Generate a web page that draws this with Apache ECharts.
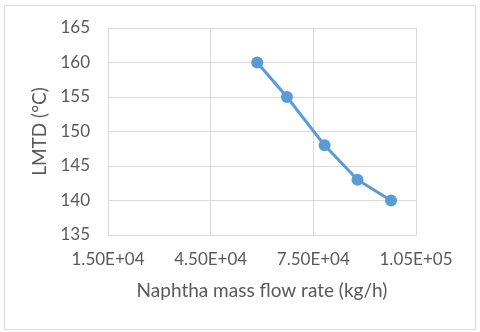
<!DOCTYPE html>
<html>
<head>
<meta charset="utf-8">
<script src="https://cdn.jsdelivr.net/npm/echarts@6/dist/echarts.min.js"></script>
<style>html,body{margin:0;padding:0;background:#fff}#c{width:480px;height:332px}</style>
</head>
<body>
<div id="c"></div>
<script>
var flowRates = [58600, 67300, 78300, 87900, 97700];
var lmtd = [160, 155, 148, 143, 140];
var xTicks = [15000, 45000, 75000, 105000];
var xTickLabels = ['1.50E+04', '4.50E+04', '7.50E+04', '1.05E+05'];
var xTitle = 'Naphtha mass flow rate (kg/h)';
var yTitle = 'LMTD (°C)';

var chart = echarts.init(document.getElementById('c'));
var font = 'Lato, "Open Sans", sans-serif';
chart.setOption({
  animation: false,
  graphic: [{
    type: 'rect', shape: {x: 4.5, y: 5.5, width: 471, height: 324},
    style: {fill: 'none', stroke: '#d9d9d9', lineWidth: 1}, silent: true, z: -1
  }],
  grid: {left: 108, right: 64, top: 28, bottom: 97},
  xAxis: {
    type: 'value', min: 15000, max: 105000, interval: 30000,
    name: xTitle, nameLocation: 'middle', nameGap: 46,
    nameTextStyle: {color: '#595959', fontSize: 19, fontFamily: font},
    axisLine: {show: true, lineStyle: {color: '#d9d9d9', width: 1}},
    axisTick: {show: false},
    axisLabel: {color: '#595959', fontSize: 17, fontFamily: font, margin: 16,
      formatter: function (v) { var i = xTicks.indexOf(v); return i >= 0 ? xTickLabels[i] : ''; }},
    splitLine: {show: true, lineStyle: {color: '#d9d9d9', width: 1}}
  },
  yAxis: {
    type: 'value', min: 135, max: 165, interval: 5,
    name: yTitle, nameLocation: 'middle', nameGap: 55, nameRotate: 90,
    nameTextStyle: {color: '#595959', fontSize: 19, fontFamily: font},
    axisLine: {show: true, lineStyle: {color: '#d9d9d9', width: 1}},
    axisTick: {show: false},
    axisLabel: {color: '#595959', fontSize: 17, fontFamily: font, margin: 18},
    splitLine: {show: true, lineStyle: {color: '#d9d9d9', width: 1}}
  },
  series: [{
    type: 'line',
    data: flowRates.map(function (x, i) { return [x, lmtd[i]]; }),
    symbol: 'circle', symbolSize: 12,
    lineStyle: {color: '#5b9bd5', width: 3},
    itemStyle: {color: '#5b9bd5'}
  }]
});
</script>
</body>
</html>
